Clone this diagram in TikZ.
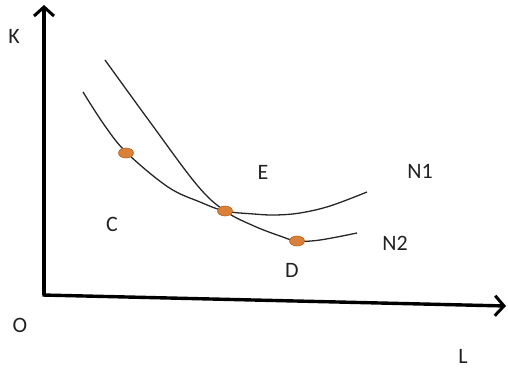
\documentclass[tikz,border=0pt]{standalone}
\usepackage{fontspec}
\setmainfont{Carlito}
\usetikzlibrary{arrows.meta,shapes.geometric}
\definecolor{dotfill}{HTML}{D9803A}
\definecolor{dotline}{HTML}{C0621E}
\definecolor{txt}{HTML}{222222}
\begin{document}
\begin{tikzpicture}[x=1pt,y=-1pt,
  axis/.style={line width=3.4pt,-{Straight Barb[length=9pt,width=20pt,line width=3pt]}},
  curve/.style={line width=1.3pt,color=black!85},
  pt/.style={ellipse,draw=dotline,fill=dotfill,line width=0.6pt,minimum width=15pt,minimum height=10pt,inner sep=0pt},
  lbl/.style={font=\fontsize{22}{22}\selectfont,text=txt,inner sep=0pt}]
\useasboundingbox (0,0) rectangle (508,371);
\coordinate (O) at (44,295);
\coordinate (Ktop) at (44,5);
\coordinate (Lend) at (506,306);
\draw[axis,line cap=butt] (O) -- (Ktop);
\draw[axis] ([xshift=-1.7pt]O) -- (Lend);
% curve ending at N2
\draw[curve] plot[smooth,tension=0.6] coordinates {(105,60) (150,122) (197,185) (225,211) (254,226) (280,236) (297,241) (320,240) (357,233)};
% curve ending at N1
\draw[curve] plot[smooth,tension=0.6] coordinates {(83,92) (105,126) (127,153) (168,187) (200,202) (225,211) (254,214) (275,215) (300,213) (330,206) (367,192)};
\node[pt] (c) at (126,153) {};
\node[pt] (e) at (225,211) {};
\node[pt] (d) at (297,241) {};
\node[lbl] (K) at (14,36) {K};
\node[lbl] (E) at (263,172) {E};
\node[lbl] (N1) at (420,171) {N1};
\node[lbl] (C) at (112,224) {C};
\node[lbl] (N2) at (395,243) {N2};
\node[lbl] (D) at (292,270) {D};
\node[lbl] (Olbl) at (20,325) {O};
\node[lbl] (L) at (463,356) {L};
\end{tikzpicture}
\end{document}
